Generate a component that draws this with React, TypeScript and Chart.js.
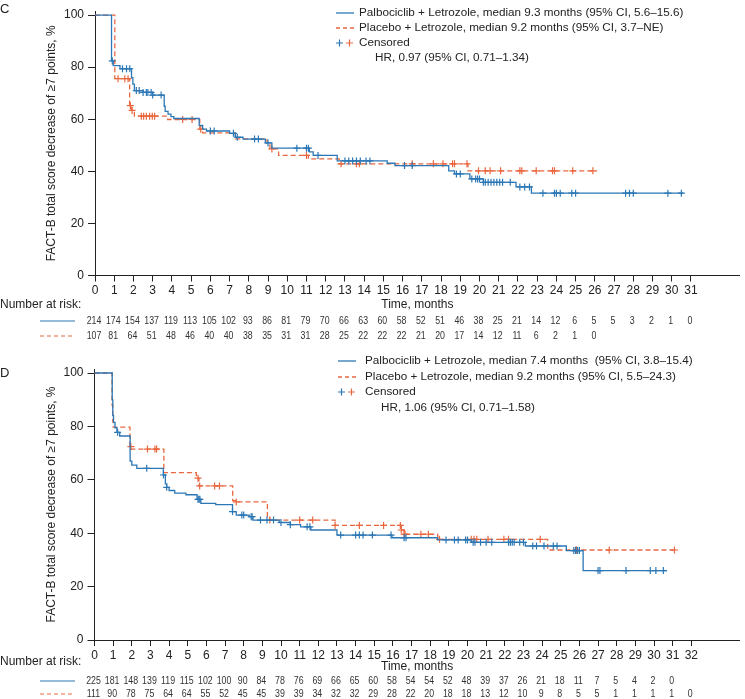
import React, { useEffect, useRef } from 'react';
import { Chart, registerables } from 'chart.js';
Chart.register(...registerables);

const FONT = '"Liberation Sans", Arial, Helvetica, sans-serif';
const BLUE = '#2c78b6';
const ORANGE = '#e8673f';
const INK = '#222222';

// ---------- Panel C ----------
const cPalboTimes = [0, 0.86, 0.95, 1.3, 1.9, 1.97, 2.05, 2.5, 3.0, 3.6, 3.65, 3.8, 3.95, 4.1, 5.42, 5.6, 5.8, 7.0, 7.3, 7.7, 8.86, 9.2, 11.15, 11.35, 12.6, 15.2, 15.6, 18.4, 18.7, 19.5, 20.2, 21.9, 22.7, 30.6];
const cPalboSurv = [100, 82.4, 80.6, 79.4, 76, 73.5, 71, 70.3, 69.3, 65, 63, 62, 61, 60.3, 57.6, 56.2, 55.5, 54.6, 53.1, 52.4, 50.9, 48.9, 47.5, 46.1, 44.0, 43.1, 42.2, 40.2, 39.0, 37.1, 35.8, 34.0, 31.6, 31.6];
const cPalboCensored = [0.9, 1.43, 1.64, 1.81, 2.15, 2.3, 2.5, 2.67, 2.75, 2.92, 3.0, 3.44, 6.0, 6.2, 7.2, 7.4, 8.3, 8.5, 9.0, 10.5, 11.0, 11.1, 11.6, 13.0, 13.2, 13.4, 13.6, 13.8, 14.1, 14.3, 16.1, 16.5, 18.8, 19.0, 19.6, 19.8, 19.9, 20.0, 20.2, 20.3, 20.45, 20.6, 20.75, 20.9, 21.05, 21.2, 21.6, 22.1, 22.35, 22.6, 23.3, 23.9, 24.0, 24.2, 24.8, 25.0, 27.6, 27.8, 28.0, 29.8, 30.5];
const cPlacTimes = [0, 1.03, 1.8, 1.9, 2.05, 3.78, 5.45, 5.6, 7.3, 8.95, 9.1, 9.55, 11.1, 12.7, 19.4, 26.1];
const cPlacSurv = [100, 75.6, 65.2, 63.4, 61.2, 59.9, 56.2, 54.8, 52.5, 50.2, 48.6, 46.1, 44.8, 42.9, 40.2, 40.2];
const cPlacCensored = [1.2, 1.55, 1.72, 1.84, 1.93, 2.41, 2.53, 2.67, 2.84, 2.98, 3.1, 4.56, 5.05, 5.5, 9.2, 11.0, 12.8, 13.6, 13.75, 16.5, 17.6, 18.1, 18.6, 18.7, 19.35, 19.95, 20.3, 20.55, 21.1, 22.1, 22.2, 22.95, 23.8, 23.9, 24.85, 25.9];
const cRiskPalbo = [214, 174, 154, 137, 119, 113, 105, 102, 93, 86, 81, 79, 70, 66, 63, 60, 58, 52, 51, 46, 38, 25, 21, 14, 12, 6, 5, 5, 3, 2, 1, 0];
const cRiskPlac = [107, 81, 64, 51, 48, 46, 40, 40, 38, 35, 31, 31, 28, 25, 22, 22, 22, 21, 20, 17, 14, 12, 11, 6, 2, 1, 0];
const cXTicks = [0, 1, 2, 3, 4, 5, 6, 7, 8, 9, 10, 11, 12, 13, 14, 15, 16, 17, 18, 19, 20, 21, 22, 23, 24, 25, 26, 27, 28, 29, 30, 31];
const cLegend = [
  'Palbociclib + Letrozole, median 9.3 months (95% CI, 5.6\u201315.6)',
  'Placebo + Letrozole, median 9.2 months (95% CI, 3.7\u2013NE)',
  'Censored',
];
const cHR = 'HR, 0.97 (95% CI, 0.71\u20131.34)';

// ---------- Panel D ----------
const dPalboTimes = [0, 0.95, 0.98, 1.02, 1.1, 1.2, 1.35, 1.91, 2.0, 2.27, 3.69, 3.8, 3.87, 4.0, 4.3, 4.9, 5.5, 5.7, 6.5, 7.4, 7.6, 8.3, 8.5, 9.9, 10.5, 11.05, 11.6, 13.0, 15.95, 18.4, 20.2, 23.1, 25.3, 26.2, 30.7];
const dPalboSurv = [100, 90, 84, 81.5, 79.5, 77.8, 76.4, 67, 65.5, 64.3, 61.8, 58.5, 57.2, 56, 55, 54.4, 52.7, 51.2, 50.7, 48.1, 46.8, 46.2, 44.9, 44.0, 43.2, 42.4, 41.2, 39.3, 38.3, 37.5, 36.6, 35.2, 33.5, 26.0, 26.0];
const dPalboCensored = [1.24, 2.8, 3.7, 3.87, 5.55, 5.6, 5.65, 7.4, 7.9, 8.0, 8.4, 8.45, 8.9, 9.25, 9.6, 10.0, 10.5, 11.4, 11.55, 13.2, 14.0, 14.2, 14.4, 14.9, 15.9, 16.6, 16.7, 18.85, 19.3, 19.5, 19.9, 20.0, 20.3, 20.4, 20.7, 21.0, 21.3, 22.2, 22.3, 22.4, 22.5, 22.8, 23.0, 23.5, 23.7, 24.1, 24.6, 24.8, 25.7, 25.8, 25.9, 26.0, 27.0, 27.1, 28.5, 29.8, 30.1, 30.5];
const dPlacTimes = [0, 0.94, 0.98, 1.0, 1.9, 1.97, 3.72, 5.46, 5.6, 7.41, 7.55, 9.27, 9.4, 12.9, 16.45, 16.6, 18.4, 24.3, 31.2];
const dPlacSurv = [100, 88, 82, 79.7, 72.4, 71.5, 62.7, 60.6, 57.7, 52.2, 51.7, 45.6, 44.9, 42.9, 41.2, 39.6, 37.7, 33.7, 33.7];
const dPlacCensored = [1.95, 2.84, 3.24, 3.33, 5.55, 5.64, 6.44, 6.7, 7.6, 9.4, 11.0, 11.7, 12.9, 14.2, 15.5, 16.4, 16.45, 16.6, 16.65, 17.5, 17.9, 18.5, 20.2, 20.35, 20.5, 21.1, 21.95, 22.2, 23.9, 25.8, 25.85, 27.6, 31.1];
const dRiskPalbo = [225, 181, 148, 139, 119, 115, 102, 100, 90, 84, 78, 76, 69, 66, 65, 60, 58, 54, 54, 52, 48, 39, 37, 26, 21, 18, 11, 7, 5, 4, 2, 0];
const dRiskPlac = [111, 90, 78, 75, 64, 64, 55, 52, 45, 45, 39, 39, 34, 32, 32, 29, 28, 22, 20, 18, 18, 13, 12, 10, 9, 8, 5, 5, 1, 1, 1, 1, 0];
const dXTicks = [0, 1, 2, 3, 4, 5, 6, 7, 8, 9, 10, 11, 12, 13, 14, 15, 16, 17, 18, 19, 20, 21, 22, 23, 24, 25, 26, 27, 28, 29, 30, 31, 32];
const dLegend = [
  'Palbociclib + Letrozole, median 7.4 months  (95% CI, 3.8\u201315.4)',
  'Placebo + Letrozole, median 9.2 months (95% CI, 5.5\u201324.3)',
  'Censored',
];
const dHR = 'HR, 1.06 (95% CI, 0.71\u20131.58)';

const yTicks = [0, 20, 40, 60, 80, 100];
const yTitle = 'FACT-B total score decrease of \u22657 points, %';
const xTitle = 'Time, months';
const riskTitle = 'Number at risk:';

type Panel = {
  letter: string; height: number; letterY: number;
  legend: string[]; legendY: number[]; hr: string; hrY: number; sampleX: number; textX: number;
  palboT: number[]; palboS: number[]; palboC: number[];
  placT: number[]; placS: number[]; placC: number[];
  riskPalbo: number[]; riskPlac: number[];
  xTicks: number[]; xMax: number; left: number; top: number; axisH: number;
  titleY: number; riskLabelY: number; rowY: number[];
};

const panels: Panel[] = [
  {
    letter: 'C', height: 350, letterY: 9,
    legend: cLegend, legendY: [13, 28, 43], hr: cHR, hrY: 58, sampleX: 336, textX: 359,
    palboT: cPalboTimes, palboS: cPalboSurv, palboC: cPalboCensored,
    placT: cPlacTimes, placS: cPlacSurv, placC: cPlacCensored,
    riskPalbo: cRiskPalbo, riskPlac: cRiskPlac,
    xTicks: cXTicks, xMax: 33.54, left: 95, top: 5, axisH: 74.5,
    titleY: 305, riskLabelY: 305, rowY: [321, 336],
  },
  {
    letter: 'D', height: 349, letterY: 23,
    legend: dLegend, legendY: [11, 27, 42], hr: dHR, hrY: 58, sampleX: 338, textX: 365,
    palboT: dPalboTimes, palboS: dPalboSurv, palboC: dPalboCensored,
    placT: dPlacTimes, placS: dPlacSurv, placC: dPlacCensored,
    riskPalbo: dRiskPalbo, riskPlac: dRiskPlac,
    xTicks: dXTicks, xMax: 34.6, left: 94.5, top: 19, axisH: 59,
    titleY: 317, riskLabelY: 312, rowY: [331, 344],
  },
];

function survAt(times: number[], surv: number[], t: number) {
  let v = surv[0];
  for (let i = 0; i < times.length; i++) if (times[i] <= t) v = surv[i];
  return v;
}

function drawCross(ctx: CanvasRenderingContext2D, x: number, y: number, r: number, color: string) {
  ctx.save();
  ctx.strokeStyle = color; ctx.lineWidth = 1.2; ctx.setLineDash([]);
  ctx.beginPath();
  ctx.moveTo(x - r, y); ctx.lineTo(x + r, y);
  ctx.moveTo(x, y - r); ctx.lineTo(x, y + r);
  ctx.stroke();
  ctx.restore();
}

function narrowText(ctx: CanvasRenderingContext2D, s: string, x: number, y: number) {
  ctx.save();
  ctx.translate(x, y);
  ctx.scale(0.8, 1);
  ctx.fillText(s, 0, 0);
  ctx.restore();
}

function decorPlugin(p: Panel) {
  return {
    id: 'decor' + p.letter,
    afterDraw(chart: any) {
      const ctx: CanvasRenderingContext2D = chart.ctx;
      const xs = chart.scales.x;
      const area = chart.chartArea;
      ctx.save();
      ctx.fillStyle = INK;
      ctx.textBaseline = 'middle';
      ctx.textAlign = 'left';
      ctx.font = `13px ${FONT}`;
      ctx.fillText(p.letter, 0, p.letterY);

      // legend
      ctx.font = `11.7px ${FONT}`;
      ctx.lineWidth = 1.3;
      ctx.strokeStyle = BLUE; ctx.setLineDash([]);
      ctx.beginPath(); ctx.moveTo(p.sampleX, p.legendY[0]); ctx.lineTo(p.sampleX + 18, p.legendY[0]); ctx.stroke();
      ctx.strokeStyle = ORANGE; ctx.setLineDash([4, 3]);
      ctx.beginPath(); ctx.moveTo(p.sampleX, p.legendY[1]); ctx.lineTo(p.sampleX + 18, p.legendY[1]); ctx.stroke();
      ctx.setLineDash([]);
      drawCross(ctx, p.sampleX + 3.5, p.legendY[2], 3.5, BLUE);
      drawCross(ctx, p.sampleX + 13.5, p.legendY[2], 3.5, ORANGE);
      p.legend.forEach((t, i) => ctx.fillText(t, p.textX, p.legendY[i]));
      ctx.fillText(p.hr, p.textX + 16, p.hrY);

      // y title
      ctx.font = `12px ${FONT}`;
      ctx.save();
      ctx.translate(52, (area.top + area.bottom) / 2);
      ctx.rotate(-Math.PI / 2);
      ctx.textAlign = 'center';
      ctx.fillText(yTitle, 0, 0);
      ctx.restore();

      // x title
      ctx.textAlign = 'center';
      ctx.fillText(xTitle, (area.left + area.right) / 2, p.titleY);

      // number at risk
      ctx.textAlign = 'left';
      ctx.fillText(riskTitle, 0, p.riskLabelY);
      ctx.lineWidth = 1.1;
      ctx.strokeStyle = BLUE; ctx.setLineDash([]);
      ctx.beginPath(); ctx.moveTo(40, p.rowY[0]); ctx.lineTo(75, p.rowY[0]); ctx.stroke();
      ctx.strokeStyle = ORANGE; ctx.setLineDash([4, 3]);
      ctx.beginPath(); ctx.moveTo(40, p.rowY[1]); ctx.lineTo(75, p.rowY[1]); ctx.stroke();
      ctx.setLineDash([]);
      ctx.font = `11px ${FONT}`;
      ctx.fillStyle = '#333';
      ctx.textAlign = 'center';
      p.riskPalbo.forEach((n, i) => narrowText(ctx, String(n), xs.getPixelForValue(i) - 1, p.rowY[0]));
      p.riskPlac.forEach((n, i) => narrowText(ctx, String(n), xs.getPixelForValue(i) - 1, p.rowY[1]));
      ctx.restore();
    },
  };
}

function buildConfig(p: Panel): any {
  const curve = (t: number[], s: number[]) => t.map((x, i) => ({ x, y: s[i] }));
  const cens = (c: number[], t: number[], s: number[]) => c.map((x) => ({ x, y: survAt(t, s, x) }));
  return {
    type: 'line',
    data: {
      datasets: [
        { data: cens(p.palboC, p.palboT, p.palboS), showLine: false, pointStyle: 'cross', pointRadius: 3.5, pointBorderWidth: 1.2, borderColor: BLUE, backgroundColor: BLUE },
        { data: curve(p.palboT, p.palboS), stepped: 'before', borderColor: BLUE, borderWidth: 1.3, pointRadius: 0, fill: false },
        { data: cens(p.placC, p.placT, p.placS), showLine: false, pointStyle: 'cross', pointRadius: 3.5, pointBorderWidth: 1.2, borderColor: ORANGE, backgroundColor: ORANGE },
        { data: curve(p.placT, p.placS), stepped: 'before', borderColor: ORANGE, borderWidth: 1.3, borderDash: [5, 3], pointRadius: 0, fill: false },
      ],
    },
    options: {
      animation: false,
      responsive: false,
      devicePixelRatio: 1,
      clip: false,
      layout: { padding: { left: 0, right: 0, top: p.top, bottom: 0 } },
      plugins: { legend: { display: false }, tooltip: { enabled: false } },
      scales: {
        x: {
          type: 'linear', min: 0, max: p.xMax,
          afterBuildTicks: (s: any) => { s.ticks = p.xTicks.map((v) => ({ value: v })); },
          afterFit: (s: any) => { s.height = p.axisH; },
          ticks: { autoSkip: false, maxRotation: 0, padding: 2, color: INK, font: { family: FONT, size: 12 } },
          grid: { drawOnChartArea: false, drawTicks: true, tickLength: 6, color: INK, tickWidth: 1 },
          border: { color: INK, width: 1 },
        },
        y: {
          type: 'linear', min: 0, max: 101.5,
          afterBuildTicks: (s: any) => { s.ticks = yTicks.map((v) => ({ value: v })); },
          afterFit: (s: any) => { s.width = p.left; },
          ticks: { padding: 4, color: INK, font: { family: FONT, size: 12 } },
          grid: { drawOnChartArea: false, drawTicks: true, tickLength: 7, color: INK, tickWidth: 1 },
          border: { color: INK, width: 1 },
        },
      },
    },
    plugins: [decorPlugin(p)],
  };
}

function PanelChart({ p }: { p: Panel }) {
  const ref = useRef<HTMLCanvasElement>(null);
  useEffect(() => {
    if (!ref.current) return;
    const chart = new Chart(ref.current, buildConfig(p));
    return () => chart.destroy();
  }, [p]);
  return <canvas ref={ref} width={745} height={p.height} style={{ display: 'block', width: 745, height: p.height }} />;
}

export default function App() {
  return (
    <div style={{ position: 'absolute', left: 0, top: 0, width: 745, height: 699, background: '#fff' }}>
      {panels.map((p) => <PanelChart key={p.letter} p={p} />)}
    </div>
  );
}
